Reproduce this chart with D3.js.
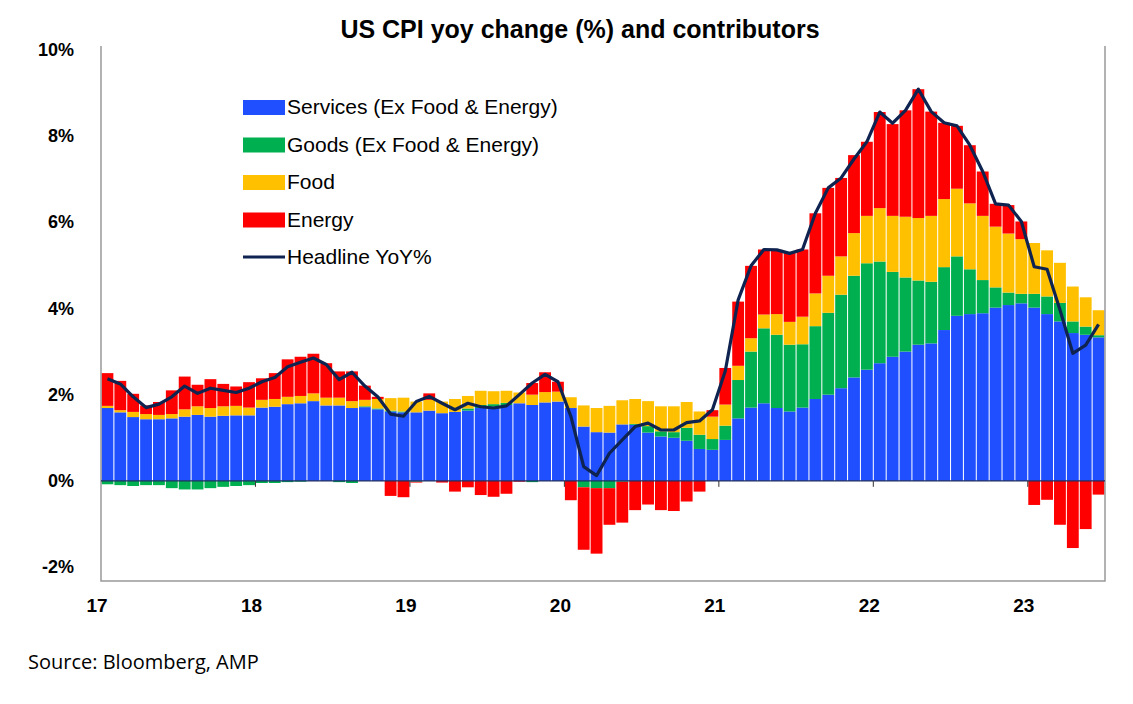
<!DOCTYPE html>
<html><head><meta charset="utf-8">
<script src="https://cdn.jsdelivr.net/npm/d3@7"></script>
<style>body{margin:0;background:#fff}</style></head>
<body><svg id="c" width="1133" height="704"></svg>
<script>
const yearLabels = ["17","18","19","20","21","22","23"];
const services = [1.69,1.59,1.48,1.43,1.43,1.45,1.49,1.53,1.49,1.51,1.52,1.52,
1.70,1.72,1.78,1.80,1.85,1.75,1.75,1.69,1.71,1.66,1.61,1.59,
1.59,1.63,1.57,1.60,1.63,1.69,1.72,1.76,1.80,1.76,1.82,1.84,
1.69,1.26,1.13,1.12,1.31,1.30,1.12,1.03,1.00,0.93,0.74,0.72,
0.95,1.45,1.70,1.80,1.69,1.61,1.70,1.90,2.00,2.15,2.40,2.58,
2.73,2.88,3.00,3.16,3.19,3.50,3.83,3.87,3.89,4.02,4.08,4.12,
4.02,3.87,3.70,3.43,3.39,3.33];
const goods = [-0.08,-0.10,-0.12,-0.10,-0.10,-0.17,-0.20,-0.20,-0.17,-0.14,-0.12,-0.10,
-0.05,-0.05,-0.03,-0.02,0,0,-0.03,-0.05,0.02,0.02,0.02,0.02,
-0.02,0,0,0,0.05,0.07,0.06,0.05,0,-0.03,0,0,
0,-0.15,-0.17,-0.17,-0.02,0.02,0.15,0.12,0.13,0.30,0.33,0.25,
0.33,0.89,1.30,1.74,1.70,1.55,1.47,1.69,1.90,2.17,2.36,2.47,
2.36,1.97,1.72,1.49,1.43,1.46,1.38,1.04,0.77,0.47,0.29,0.22,
0.32,0.41,0.43,0.27,0.19,0.05];
const food = [0.05,0.05,0.12,0.12,0.10,0.10,0.17,0.20,0.20,0.22,0.22,0.18,
0.18,0.18,0.17,0.17,0.18,0.18,0.18,0.16,0.15,0.22,0.29,0.32,
0.25,0.25,0.27,0.30,0.29,0.33,0.30,0.28,0.25,0.24,0.24,0.23,
0.25,0.49,0.56,0.62,0.56,0.58,0.58,0.58,0.60,0.60,0.54,0.52,
0.49,0.33,0.31,0.32,0.48,0.53,0.64,0.76,0.86,0.89,0.99,1.10,
1.24,1.30,1.41,1.45,1.53,1.58,1.57,1.53,1.49,1.41,1.37,1.27,
1.18,1.07,0.93,0.81,0.68,0.58];
const energy = [0.76,0.68,0.42,0.20,0.30,0.55,0.76,0.50,0.67,0.52,0.45,0.59,
0.50,0.60,0.87,0.91,0.92,0.80,0.61,0.69,0.33,0.05,-0.35,-0.38,
-0.02,0.15,-0.04,-0.25,-0.15,-0.33,-0.37,-0.30,-0.02,0.27,0.46,0.23,
-0.45,-1.45,-1.52,-0.85,-0.95,-0.68,-0.55,-0.68,-0.70,-0.48,-0.25,0.15,
0.85,1.49,1.68,1.51,1.49,1.60,1.56,1.86,2.04,1.82,1.81,1.72,
2.23,2.13,2.47,2.99,2.42,1.77,1.46,1.35,1.03,0.53,0.66,0.41,
-0.56,-0.44,-1.02,-1.56,-1.12,-0.32];
const headline = [2.37,2.25,1.95,1.70,1.78,1.95,2.20,2.03,2.15,2.10,2.05,2.15,
2.30,2.40,2.65,2.75,2.85,2.70,2.35,2.52,2.20,1.95,1.55,1.50,
1.84,1.96,1.80,1.65,1.80,1.72,1.69,1.74,2.00,2.27,2.47,2.30,
1.50,0.33,0.12,0.64,0.95,1.26,1.34,1.18,1.18,1.35,1.39,1.65,
2.55,4.20,4.99,5.37,5.36,5.28,5.37,6.21,6.80,7.03,7.47,7.87,
8.56,8.30,8.60,9.09,8.57,8.31,8.24,7.79,7.18,6.43,6.40,6.02,
4.97,4.91,3.97,2.96,3.15,3.63];
const seriesNames = ["Services (Ex Food & Energy)","Goods (Ex Food & Energy)","Food","Energy","Headline YoY%"];
const colors = ["#1f4fff","#00b050","#ffc000","#ff0000","#0f2350"];
const yTicks = [-2,0,2,4,6,8,10];

const svg = d3.select("#c");
const L=101, R=1105, T=50, B=567;
const n = services.length;
const idx = d3.range(n);
const x = d3.scaleBand().domain(idx).range([L,R]).paddingInner(0.08).paddingOuter(0.04);
const y = d3.scaleLinear().domain([-2,10]).range([B,T]);
const rows = idx.map(i=>({i, s:services[i], g:goods[i], f:food[i], e:energy[i]}));
const stack = d3.stack().keys(["s","g","f","e"]).offset(d3.stackOffsetDiverging)(rows);

svg.append("text").attr("x",580).attr("y",38).attr("text-anchor","middle")
 .attr("font-family","Liberation Sans, Arial").attr("font-weight","bold").attr("font-size",25).text("US CPI yoy change (%) and contributors");

stack.forEach((layer,k)=>{
 svg.append("g").selectAll("rect").data(layer).join("rect")
  .attr("x",d=>x(d.data.i)).attr("width",x.bandwidth())
  .attr("y",d=>y(d[1])).attr("height",d=>Math.max(0,y(d[0])-y(d[1])))
  .attr("fill",colors[k]);
});
// frame
const fr = svg.append("g").attr("stroke","#999").attr("stroke-width",1.5).attr("fill","none");
fr.append("path").attr("d",`M${L},${T-4}V${B+14}H${R}V${T-4}`);
// zero line
svg.append("line").attr("x1",L).attr("x2",R).attr("y1",y(0)).attr("y2",y(0)).attr("stroke","#1a2a60").attr("stroke-width",1.2);
// year ticks
const step = (R-L)/n;
const yearPos = yearLabels.map((_,k)=>L+k*12*step);
svg.append("g").selectAll("line").data(yearPos.slice(1)).join("line")
 .attr("x1",d=>d).attr("x2",d=>d).attr("y1",y(0)).attr("y2",y(0)+6).attr("stroke","#333");
svg.append("g").selectAll("text").data(yearLabels).join("text")
 .attr("x",(d,k)=>yearPos[k]-4).attr("y",612).attr("text-anchor","middle")
 .attr("font-family","Liberation Sans, Arial").attr("font-weight","bold").attr("font-size",19).text(d=>d);
// y ticks
svg.append("g").selectAll("text").data(yTicks).join("text")
 .attr("x",74).attr("y",d=>y(d)+6).attr("text-anchor","end")
 .attr("font-family","Liberation Sans, Arial").attr("font-weight","bold").attr("font-size",18).text(d=>d+"%");
// headline
const line = d3.line().x((d,i)=>x(i)+x.bandwidth()/2).y(d=>y(d));
svg.append("path").datum(headline).attr("d",line).attr("fill","none").attr("stroke",colors[4]).attr("stroke-width",3.2).attr("stroke-linejoin","round");
// legend
const lg = svg.append("g");
seriesNames.forEach((nm,k)=>{
 const yy = 107+k*37.5;
 if(k<4) lg.append("rect").attr("x",243).attr("y",yy-7).attr("width",42).attr("height",15).attr("fill",colors[k]);
 else lg.append("line").attr("x1",243).attr("x2",285).attr("y1",yy).attr("y2",yy).attr("stroke",colors[4]).attr("stroke-width",3.2);
 lg.append("text").attr("x",287).attr("y",yy+7).attr("font-family","Liberation Sans, Arial").attr("font-size",21).text(nm);
});
svg.append("text").attr("x",28).attr("y",669).attr("font-family","Open Sans, Lato").attr("font-size",20).text("Source: Bloomberg, AMP");
</script></body></html>
